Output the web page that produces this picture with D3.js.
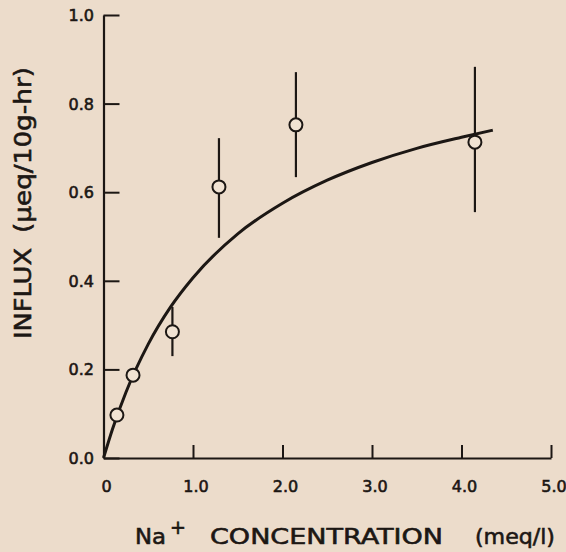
<!DOCTYPE html>
<html>
<head>
<meta charset="utf-8">
<script src="https://cdn.jsdelivr.net/npm/d3@7"></script>
<style>
  body { margin: 0; background: #ecdccb; }
  text { font-family: "DejaVu Sans", sans-serif; fill: #1c1714; stroke: #1c1714; stroke-width: 0.6px; }
</style>
</head>
<body>
<svg width="566" height="552"></svg>
<script>

// data
var conc   = [0.15, 0.33, 0.77, 1.29, 2.15, 4.15];
var influx = [0.097, 0.187, 0.285, 0.612, 0.752, 0.713];
var errLow  = [null, null, 0.23, 0.497, 0.634, 0.555];
var errHigh = [null, null, 0.341, 0.722, 0.871, 0.883];

// fitted curve, points
var curveX = [0, 0.1, 0.25, 0.5, 0.75, 1.0, 1.5, 2.0, 2.5, 3.0, 3.5, 4.0, 4.35];
var curveY = [0, 0.065, 0.148, 0.257, 0.341, 0.407, 0.506, 0.575, 0.627, 0.667, 0.699, 0.724, 0.740];

var xTicks = [0, 1, 2, 3, 4, 5];
var xTickLabels = ["0", "1.0", "2.0", "3.0", "4.0", "5.0"];
var yTicks = [0, 0.2, 0.4, 0.6, 0.8, 1.0];
var yTickLabels = ["0.0", "0.2", "0.4", "0.6", "0.8", "1.0"];

var svg = d3.select("svg"),
    ink = "#1c1714";

var x = d3.scaleLinear().domain([0, 5]).range([103.5, 551]),
    y = d3.scaleLinear().domain([0, 1]).range([458, 15]);

// axes
var xAxis = d3.axisTop(x).tickValues(xTicks).tickFormat("").tickSize(13).tickSizeOuter(0);
var yAxis = d3.axisRight(y).tickValues(yTicks).tickFormat("").tickSize(16).tickSizeOuter(0);

var gx = svg.append("g").attr("transform", "translate(0," + y(0) + ")").call(xAxis);
var gy = svg.append("g").attr("transform", "translate(" + x(0) + ",0)").call(yAxis);

[gx, gy].forEach(function(g) {
  g.select(".domain").attr("stroke", ink).attr("stroke-width", 2.2);
  g.selectAll(".tick line").attr("stroke", ink).attr("stroke-width", 2);
});

// tick labels
svg.append("g").selectAll("text")
    .data(xTicks)
  .enter().append("text")
    .attr("x", function(d) { return x(d) + 3; })
    .attr("y", 492)
    .attr("text-anchor", "middle")
    .style("font-size", "16px")
    .text(function(d, i) { return xTickLabels[i]; });

svg.append("g").selectAll("text")
    .data(yTicks)
  .enter().append("text")
    .attr("x", 94)
    .attr("y", function(d) { return y(d) + 6; })
    .attr("text-anchor", "end")
    .style("font-size", "16px")
    .text(function(d, i) { return yTickLabels[i]; });

// axis titles
var xt = svg.append("text")
    .attr("y", 544)
    .style("font-size", "22px");
xt.append("tspan").attr("x", 135).attr("textLength", 31).attr("lengthAdjust", "spacingAndGlyphs").text("Na");
xt.append("tspan").attr("x", 170).attr("dy", -10).style("font-size", "19px").text("+");
xt.append("tspan").attr("x", 210).attr("dy", 10).attr("textLength", 233).attr("lengthAdjust", "spacingAndGlyphs").text("CONCENTRATION");
xt.append("tspan").attr("x", 475).attr("textLength", 80).attr("lengthAdjust", "spacingAndGlyphs").text("(meq/l)");

var yt = svg.append("text")
    .attr("transform", "translate(31,339) rotate(-90)")
    .style("font-size", "23px");
yt.append("tspan").attr("x", 0).attr("textLength", 91).attr("lengthAdjust", "spacingAndGlyphs").text("INFLUX");
yt.append("tspan").attr("x", 106).attr("textLength", 166).attr("lengthAdjust", "spacingAndGlyphs").text("(\u03bceq/10g-hr)");

// fitted curve
var line = d3.line()
    .curve(d3.curveMonotoneX)
    .x(function(d) { return x(d[0]); })
    .y(function(d) { return y(d[1]); });

svg.append("path")
    .datum(d3.zip(curveX, curveY))
    .attr("d", line)
    .attr("fill", "none")
    .attr("stroke", ink)
    .attr("stroke-width", 3);

// error bars
var pts = conc.map(function(c, i) {
  return {x: c, y: influx[i], lo: errLow[i], hi: errHigh[i]};
});

svg.append("g").selectAll("line")
    .data(pts.filter(function(d) { return d.lo != null; }))
  .enter().append("line")
    .attr("x1", function(d) { return x(d.x); })
    .attr("x2", function(d) { return x(d.x); })
    .attr("y1", function(d) { return y(d.lo); })
    .attr("y2", function(d) { return y(d.hi); })
    .attr("stroke", ink)
    .attr("stroke-width", 2.2);

// points
svg.append("g").selectAll("circle")
    .data(pts)
  .enter().append("circle")
    .attr("cx", function(d) { return x(d.x); })
    .attr("cy", function(d) { return y(d.y); })
    .attr("r", 6.5)
    .attr("fill", "#f1e3d3")
    .attr("stroke", ink)
    .attr("stroke-width", 2);

</script>
</body>
</html>
